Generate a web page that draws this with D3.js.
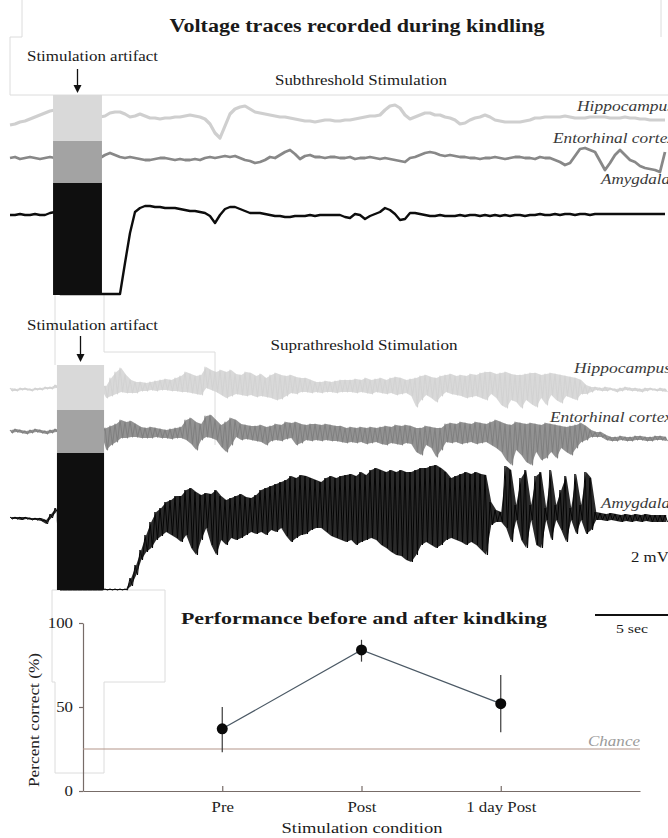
<!DOCTYPE html>
<html><head><meta charset="utf-8">
<script src="https://cdn.jsdelivr.net/npm/d3@7"></script>
<style>html,body{margin:0;padding:0;background:#fff;} svg{display:block;}</style>
</head><body>
<svg id="chart" width="668" height="838"></svg>
<script>
// ================= DATA =================
const sampleInterval = 1 / 3; // seconds between samples

// Subthreshold stimulation traces (mV, relative to each trace's baseline)
const hippSub = [
-0.7,-0.6,-0.4,-0.3,-0.1,0.1,0.3,0.5,0.7,0.8,
0.6,0.5,0.5,0.4,0.4,0.3,0.3,0.2,0.1,0.2,
0.5,0.6,0.6,0.4,0.1,0.2,0.4,0.2,0,0,
-0.1,0,0,0.1,0.1,0.2,0.3,0.2,0.1,-0.1,
-0.6,-1.5,-2.0,-0.8,0.4,0.9,1.1,1.2,0.9,0.6,
0.5,0.4,0.3,0.2,0.1,0.1,0,-0.1,-0.2,-0.3,
-0.3,-0.4,-0.3,-0.2,-0.2,-0.3,-0.3,-0.2,-0.2,-0.1,
0,0.1,0.2,0.2,0.3,0.8,1.2,1.3,1.0,0.3,
-0.1,0.1,0.3,0.5,0.5,0.3,0.3,0.1,0,-0.2,
-0.6,-0.5,-0.2,0,0.1,0.3,0.1,-0.2,-0.3,-0.4,
-0.4,-0.4,-0.4,-0.3,-0.2,0,0,0.1,0.1,0.1,
0.1,0.2,0.1,0,0,0,0.1,0.1,0.1,0.1,
0,0,0,0.1,0,0,-0.1,-0.1,-0.2,-0.2,
-0.2,-0.2];
const entoSub = [
0,0.1,-0.1,0,0.1,0,-0.1,0,0.1,0,
0,0,0,0,0,0,0,0,0,0.3,
0.5,0.3,0.1,0,0.1,0,-0.1,-0.2,-0.2,-0.1,
0,0,-0.1,-0.2,-0.1,-0.2,-0.2,-0.1,-0.2,0,
0.1,0,0.1,0.2,0.1,0.2,0,-0.2,-0.3,-0.5,
-0.4,-0.2,0.1,0,0.3,0.6,0.8,0.4,-0.1,0.2,
0.3,0.1,0.1,0,0.1,0.1,0,0,0.1,-0.1,
0,0,0.1,0,-0.1,0,-0.1,-0.2,-0.3,-0.4,
0,0.1,0.3,0.5,0.6,0.5,0.3,0.2,0.3,0.2,
0.1,0.1,0,0,-0.1,0,0,0.1,0,-0.1,
0,0.1,0.1,0,0,-0.1,0.1,0,0,-0.2,
-0.4,-0.7,-0.5,0.2,0.9,1.0,0.8,0.6,-0.3,-1.2,
-0.5,0.3,0.8,0.3,-0.2,-0.4,-0.8,-1.0,-1.1,-1.2,
-1.4,0.6];
const amygSub = [
0,0,0.1,0,0,0.1,0,0,0.2,0.3,
-7.9,-7.9,-7.9,-7.9,-7.9,-7.9,-7.9,-7.9,-7.9,-7.9,
-7.9,-7.9,-7.9,-4.8,-1.8,0.3,0.7,0.9,0.9,0.8,
0.8,0.7,0.7,0.7,0.6,0.5,0.4,0.4,0.3,0.2,
-0.1,-0.8,0,0.6,0.8,0.8,0.6,0.4,0.2,0.2,
0.2,0.1,0,-0.1,-0.1,-0.2,-0.2,-0.1,-0.1,-0.1,
0,-0.1,0,0,0,0,0,-0.2,-0.3,0.1,
0,-0.4,-0.1,0.1,0.3,0.7,0.5,0.1,-0.5,-0.4,
0.2,0.2,0.1,0,-0.1,-0.1,0,-0.1,-0.1,-0.1,
0,-0.1,0,0,-0.1,0,-0.1,0,-0.1,0,
-0.1,0,0,-0.1,0,0,0.1,0,0,0.1,
0,0.1,0.1,0,0.1,0.1,0,0.1,0.1,0.1,
0.1,0.1,0.1,0.1,0.1,0.1,0.1,0.1,0.1,0.1,
0.1,0.1];

// Suprathreshold stimulation traces: upper / lower envelope per sample (mV)
const hippSupHi = [
0.1,0.0,0.1,0.1,0.0,0.1,0.1,0.2,0.2,0.4,
0.2,0.2,0.2,0.2,0.2,0.2,0.2,0.2,0.2,0.3,
1.1,1.7,2.1,1.4,0.9,0.7,0.7,0.6,0.7,0.8,
0.9,1.0,0.9,1.1,1.3,1.7,1.5,1.3,1.4,2.2,
1.9,1.7,1.9,1.7,1.9,1.5,1.4,1.7,1.6,1.3,
1.5,1.1,1.4,1.6,1.4,1.3,1.4,1.2,1.1,1.1,
0.9,0.7,0.7,0.8,0.7,0.8,0.9,0.9,0.9,1.0,
0.9,1.1,0.9,1.0,1.1,0.9,1.1,1.2,1.1,0.9,
1.0,1.1,1.3,1.4,1.2,1.1,1.3,1.4,1.5,1.3,
1.4,1.3,1.5,1.4,1.6,1.7,1.7,1.5,1.6,1.7,
1.5,1.4,1.4,1.5,1.6,1.6,1.4,1.5,1.6,1.5,
1.4,1.3,1.2,1.1,0.9,0.4,0.2,0.2,0.1,0.2,
0.1,0.0,0.1,0.2,0.1,0.1,0.0,0.1,0.1,0.0,
0.1,0.0];
const hippSupLo = [
-0.2,-0.2,-0.1,-0.1,-0.2,-0.1,-0.1,0.0,0.0,0.1,
0,0,0,0,0,0,0,0,0,-0.9,
-0.7,-0.5,-0.3,-0.4,-0.4,-0.4,-0.2,-0.2,-0.1,-0.2,
-0.1,-0.1,-0.2,-0.2,-0.3,-0.3,-0.4,-0.5,-0.6,0.1,
-0.1,-0.3,-0.6,-0.9,-0.7,-0.5,-0.6,-0.7,-0.6,-0.8,
-0.7,-0.8,-0.9,-1.1,-1.0,-0.7,-0.4,-0.5,-0.3,-0.3,
-0.4,-0.3,-0.4,-0.3,-0.3,-0.4,-0.3,-0.3,-0.3,-0.4,
-0.3,-0.4,-0.5,-0.3,-0.4,-0.5,-0.4,-0.6,-0.5,-0.4,
-0.7,-1.8,-1.1,-0.6,-0.9,-1.3,-0.7,-0.3,-0.5,-0.6,
-0.7,-0.9,-0.8,-0.7,-0.9,-1.1,-0.5,-0.9,-1.6,-1.9,
-1.1,-1.3,-1.9,-1.1,-1.5,-1.8,-0.9,-1.6,-0.6,-1.1,
-1.4,-0.7,-0.9,-1.1,-0.5,-0.5,-0.3,-0.1,-0.2,-0.2,
-0.1,-0.3,-0.2,-0.1,-0.2,-0.2,-0.3,-0.2,-0.1,-0.2,
-0.2,-0.3];
const entoSupHi = [
0.2,0.3,0.2,0.1,0.2,0.3,0.2,0.1,0.2,0.3,
0.1,0.1,0.1,0.1,0.1,0.1,0.1,0.1,0.1,0.4,
0.6,0.8,1.2,1.0,1.1,0.8,0.5,0.4,0.5,0.4,
0.3,0.2,0.3,0.4,0.5,1.2,1.4,1.0,0.8,1.6,
1.7,1.2,0.7,1.0,1.4,1.2,0.8,0.7,0.6,0.6,
0.7,0.5,0.6,0.8,0.7,1.0,0.9,1.0,0.8,0.7,
0.8,0.8,0.7,0.8,0.7,0.6,0.6,0.4,0.5,0.4,
0.5,0.4,0.5,0.4,0.5,0.6,0.5,0.7,0.6,0.7,
0.6,0.4,0.4,0.6,0.5,0.4,0.4,0.8,0.9,0.8,
1.0,0.9,0.8,1.0,0.9,0.8,1.0,1.2,1.0,0.8,
0.7,1.0,0.9,0.8,0.9,0.8,0.7,0.9,0.8,0.7,
0.6,0.5,0.6,0.7,0.9,0.6,0.2,0.0,0.0,-0.3,
-0.5,-0.5,-0.4,-0.5,-0.5,-0.4,-0.4,-0.5,-0.5,-0.4,
-0.4,-0.5];
const entoSupLo = [
-0.1,0,-0.1,-0.2,-0.1,0,-0.1,-0.2,-0.1,0,
-0.1,-0.1,-0.1,-0.1,-0.1,-0.1,-0.1,-0.1,-0.1,-1.8,
-1.3,-1.0,-0.6,-0.6,-0.5,-0.5,-0.6,-0.6,-0.6,-0.5,
-0.6,-0.6,-0.7,-0.6,-0.6,-0.8,-1.2,-1.8,-0.8,-0.5,
-0.6,-0.8,-1.5,-2.0,-1.3,-0.5,-0.8,-0.7,-0.8,-0.9,
-1.0,-1.3,-0.9,-0.8,-0.9,-0.7,-0.6,-1.3,-1.1,-0.8,
-0.9,-0.8,-0.9,-0.8,-0.9,-0.9,-1.0,-1.1,-1.0,-1.1,
-1.0,-1.2,-1.1,-1.0,-1.2,-1.3,-1.1,-1.2,-1.3,-1.1,
-1.2,-2.0,-2.3,-1.3,-1.6,-2.5,-1.8,-1.0,-1.1,-1.0,
-1.2,-1.1,-1.0,-1.2,-1.1,-1.0,-1.3,-1.6,-2.0,-2.8,
-3.3,-1.8,-2.3,-3.0,-3.3,-2.0,-2.8,-2.6,-2.0,-2.6,
-1.6,-2.0,-2.3,-1.6,-1.0,-0.8,-0.5,-0.5,-0.5,-0.8,
-0.9,-0.9,-0.8,-0.9,-0.9,-0.8,-0.8,-0.9,-0.9,-0.8,
-0.8,-0.9];
const amygSupHi = [
0.1,0.1,0.1,0.1,0,0,0,-0.2,0.4,1.0,
-7.2,-7.2,-7.2,-7.2,-7.2,-7.2,-7.2,-7.2,-7.2,-7.1,
-7.1,-7.1,-7.1,-7.1,-6.0,-4.7,-3.2,-1.7,-0.4,0.6,
1.0,1.6,1.8,2.2,2.2,2.8,3.0,2.6,2.3,2.5,
2.4,2.8,2.2,1.8,2.0,2.2,2.4,2.1,2.0,2.3,
2.8,3.0,3.2,3.4,3.6,3.8,4.2,4.0,4.3,4.2,
4.0,3.8,3.6,4.0,4.2,4.0,4.2,4.3,4.4,4.2,
4.6,4.3,4.8,5.0,4.8,4.6,4.8,4.6,4.8,4.6,
4.6,4.8,5.0,5.0,5.2,5.3,5.0,4.6,4.0,4.2,
4.4,4.6,4.4,4.6,4.4,4.3,1.6,0.8,0.6,5.2,
4.8,1.3,4.0,4.8,1.3,4.2,4.6,1.0,4.8,1.3,
2.8,4.2,1.0,4.4,1.3,4.6,4.0,0.6,0.5,0.4,
0.5,0.4,0.3,0.4,0.3,0.4,0.3,0.4,0.3,0.3,
0.3,0.3];
const amygSupLo = [
-0.1,-0.1,-0.2,-0.1,-0.2,-0.2,-0.3,-0.6,0,0.6,
-7.2,-7.2,-7.2,-7.2,-7.2,-7.2,-7.2,-7.2,-7.2,-7.2,
-7.2,-7.2,-7.2,-7.2,-6.8,-5.7,-4.2,-3.4,-3.0,-2.2,
-1.8,-1.4,-1.7,-2.0,-2.4,-1.7,-3.0,-3.7,-2.2,-1.0,
-2.7,-3.7,-2.2,-2.7,-2.0,-2.2,-2.0,-1.7,-1.4,-1.6,
-1.4,-1.7,-1.2,-1.4,-1.0,-1.8,-2.4,-2.0,-1.7,-1.6,
-1.2,-1.0,-1.0,-1.4,-1.8,-2.0,-2.2,-2.4,-2.2,-2.7,
-2.4,-2.2,-2.0,-2.2,-2.7,-3.0,-3.4,-3.7,-3.8,-4.2,
-4.4,-3.7,-2.7,-2.4,-2.7,-3.0,-2.7,-2.2,-2.0,-2.2,
-2.4,-2.7,-2.4,-2.7,-3.2,-3.7,-0.7,-0.4,-0.4,-1.0,
-2.4,-0.2,-2.2,-3.0,-0.2,-2.7,-3.0,-0.2,-2.2,-0.2,
-1.2,-2.4,-0.2,-1.6,-0.2,-1.6,-1.2,-0.2,-0.2,-0.3,
-0.2,-0.3,-0.4,-0.3,-0.4,-0.3,-0.4,-0.3,-0.4,-0.4,
-0.4,-0.4];

// Stimulation artifact windows (s)
const stimSub = [2.87, 6.13];
const stimSup = [3.13, 6.27];
const timeBarSec = [39, 44]; // "5 sec" bar

// Behaviour panel
const conditions = ["Pre", "Post", "1 day Post"];
const percentMean = [37, 84, 52];
const percentLow = [23, 77, 35];
const percentHigh = [50, 90, 69];
const chanceLevel = 25;
const percentTicks = [0, 50, 100];

// ================= DRAWING =================
const serif = "'Liberation Serif','Times New Roman',serif";
const STRETCH = 1.16; // horizontal stretch of the reference typography
const svg = d3.select("#chart");
const nS = hippSub.length;
const xT = d3.scaleLinear().domain([0, (nS - 1) * sampleInterval]).range([10, 665]);
const tOf = i => i * sampleInterval;
const vScale = base => d3.scaleLinear().domain([0, 1]).range([base, base - 10]);

function stretch(sel, w) {
  sel.each(function () {
    const l = this.getComputedTextLength();
    d3.select(this).attr("textLength", (w || l * STRETCH).toFixed(1)).attr("lengthAdjust", "spacingAndGlyphs");
  });
  return sel;
}
function txt(s, x, y, size, opts = {}) {
  const t = svg.append("text").attr("x", x).attr("y", y)
    .attr("font-family", serif).attr("font-size", size)
    .attr("fill", opts.fill || "#1a1a1a")
    .attr("text-anchor", opts.anchor || "start")
    .attr("font-weight", opts.weight || "normal")
    .attr("font-style", opts.style || "normal")
    .text(s);
  stretch(t, opts.width);
  return t;
}

// faint frame lines
const frame = svg.append("g").attr("fill", "none").attr("stroke", "#dcdcdc").attr("stroke-width", 1);
["M22,0V37H10V95H668", "M661,0V37", "M55,295V365", "M104,295V352H215V445",
 "M52,590H165V682H104V773H55V682H52Z"].forEach(d => frame.append("path").attr("d", d));

// single-line traces
function trace(vals, base, color, w) {
  const ys = vScale(base);
  const line = d3.line().x((d, i) => xT(tOf(i))).y(d => ys(d));
  svg.append("path").attr("d", line(vals)).attr("fill", "none")
    .attr("stroke", color).attr("stroke-width", w).attr("stroke-linejoin", "round");
}
// envelope traces: filled band between envelopes + zig-zag strokes
function envTrace(hi, lo, base, color, w, fillOp) {
  const ys = vScale(base);
  const area = d3.area().x((d, i) => xT(tOf(i) + sampleInterval / 4))
    .y0((d, i) => ys(lo[i])).y1(d => ys(d));
  svg.append("path").attr("d", area(hi)).attr("fill", color).attr("fill-opacity", fillOp);
  const pts = [];
  hi.forEach((h, i) => { pts.push([tOf(i), h]); pts.push([tOf(i) + sampleInterval / 2, lo[i]]); });
  const line = d3.line().x(d => xT(d[0])).y(d => ys(d[1]));
  svg.append("path").attr("d", line(pts)).attr("fill", "none")
    .attr("stroke", color).attr("stroke-width", w).attr("stroke-linejoin", "round");
}

trace(hippSub, 118, "#cfcfcf", 3.2);
trace(entoSub, 158, "#888888", 2.8);
trace(amygSub, 215, "#0d0d0d", 2.4);

envTrace(hippSupHi, hippSupLo, 389, "#d2d2d2", 1.1, 0.85);
envTrace(entoSupHi, entoSupLo, 432, "#808080", 1.1, 0.85);
envTrace(amygSupHi, amygSupLo, 518, "#050505", 1.0, 0.85);

// stimulation artifact blocks
function artifact(win, bands) {
  const x0 = xT(win[0]), x1 = xT(win[1]);
  bands.forEach(b => svg.append("rect").attr("x", x0).attr("width", x1 - x0)
    .attr("y", b[0]).attr("height", b[1] - b[0]).attr("fill", b[2]));
}
artifact(stimSub, [[95, 141, "#d9d9d9"], [141, 183, "#a3a3a3"], [183, 295, "#0f0f0f"]]);
artifact(stimSup, [[365, 410, "#d9d9d9"], [410, 453, "#a3a3a3"], [453, 590, "#0f0f0f"]]);

// arrows
function arrow(x, y0, y1) {
  svg.append("line").attr("x1", x).attr("x2", x).attr("y1", y0).attr("y2", y1 - 5)
    .attr("stroke", "#111").attr("stroke-width", 1.3);
  svg.append("path").attr("d", `M${x - 4},${y1 - 8}L${x},${y1}L${x + 4},${y1 - 8}Z`).attr("fill", "#111");
}
arrow((xT(stimSub[0]) + xT(stimSub[1])) / 2, 69, 93);
arrow((xT(stimSup[0]) + xT(stimSup[1])) / 2, 336, 362);

// texts
txt("Voltage traces recorded during kindling", 357, 32, 18.5, { anchor: "middle", weight: "bold", width: 375 });
txt("Stimulation artifact", 27, 61, 14.5, { width: 131 });
txt("Subthreshold Stimulation", 361, 85, 14, { anchor: "middle", width: 172 });
txt("Stimulation artifact", 27, 330, 14.5, { width: 131 });
txt("Suprathreshold Stimulation", 364, 350, 14, { anchor: "middle", width: 187 });

const lab = { style: "italic", fill: "#3a3a3a" };
txt("Hippocampus", 577, 111, 15, Object.assign({ width: 97 }, lab));
txt("Entorhinal cortex", 553, 143, 15, Object.assign({ width: 122 }, lab));
txt("Amygdala", 601, 184, 15, Object.assign({ width: 69 }, lab));
txt("Hippocampus", 574, 373, 15, Object.assign({ width: 97 }, lab));
txt("Entorhinal cortex", 550, 422, 15, Object.assign({ width: 122 }, lab));
txt("Amygdala", 601, 508, 15, Object.assign({ width: 69 }, lab));

txt("2 mV", 631, 562, 14.5);
svg.append("line").attr("x1", xT(timeBarSec[0])).attr("x2", xT(timeBarSec[1]))
  .attr("y1", 615).attr("y2", 615).attr("stroke", "#111").attr("stroke-width", 2.2);
txt("5 sec", 632, 633, 13, { anchor: "middle", width: 32 });

// ---- performance panel ----
const xC = d3.scalePoint().domain(conditions).range([83, 640]).padding(1);
const yP = d3.scaleLinear().domain([0, 100]).range([791, 623]);
const axisColor = "#776c68";

txt("Performance before and after kindking", 364, 624, 17, { anchor: "middle", weight: "bold", width: 366 });

const gy = svg.append("g").attr("transform", "translate(83,0)")
  .call(d3.axisLeft(yP).tickValues(percentTicks).tickSize(4).tickSizeOuter(0).tickPadding(6));
const gx = svg.append("g").attr("transform", "translate(0,791)")
  .call(d3.axisBottom(xC).tickSize(-5).tickSizeOuter(0).tickPadding(11));
[gy, gx].forEach(g => {
  g.select(".domain").attr("stroke", axisColor).attr("stroke-width", 1.2);
  g.selectAll(".tick line").attr("stroke", axisColor).attr("stroke-width", 1.2);
  g.selectAll(".tick text").attr("font-family", serif).attr("font-size", 14.5).attr("fill", "#222");
  stretch(g.selectAll(".tick text"));
});

svg.append("line").attr("x1", 83).attr("x2", 640).attr("y1", yP(chanceLevel)).attr("y2", yP(chanceLevel))
  .attr("stroke", "#b3968a").attr("stroke-width", 1.2);
txt("Chance", 640, yP(chanceLevel) - 3, 14.5, { anchor: "end", style: "italic", fill: "#9a9a9a", width: 52 });

const pts = conditions.map((c, i) => ({ c, m: percentMean[i], lo: percentLow[i], hi: percentHigh[i] }));
svg.append("path").attr("d", d3.line().x(d => xC(d.c)).y(d => yP(d.m))(pts))
  .attr("fill", "none").attr("stroke", "#4b5965").attr("stroke-width", 1.2);
svg.selectAll(".err").data(pts).join("line").attr("class", "err")
  .attr("x1", d => xC(d.c)).attr("x2", d => xC(d.c))
  .attr("y1", d => yP(d.lo)).attr("y2", d => yP(d.hi))
  .attr("stroke", "#3a3a3a").attr("stroke-width", 1.2);
svg.selectAll(".pt").data(pts).join("circle").attr("class", "pt")
  .attr("cx", d => xC(d.c)).attr("cy", d => yP(d.m)).attr("r", 5.5).attr("fill", "#0a0a0a");

const yl = svg.append("text").attr("transform", "translate(39,720) rotate(-90)")
  .attr("text-anchor", "middle").attr("font-family", serif).attr("font-size", 14.5)
  .attr("fill", "#222").text("Percent correct (%)");
stretch(yl, 134);
txt("Stimulation condition", 362, 833, 14.5, { anchor: "middle", width: 161 });
</script>
</body></html>
